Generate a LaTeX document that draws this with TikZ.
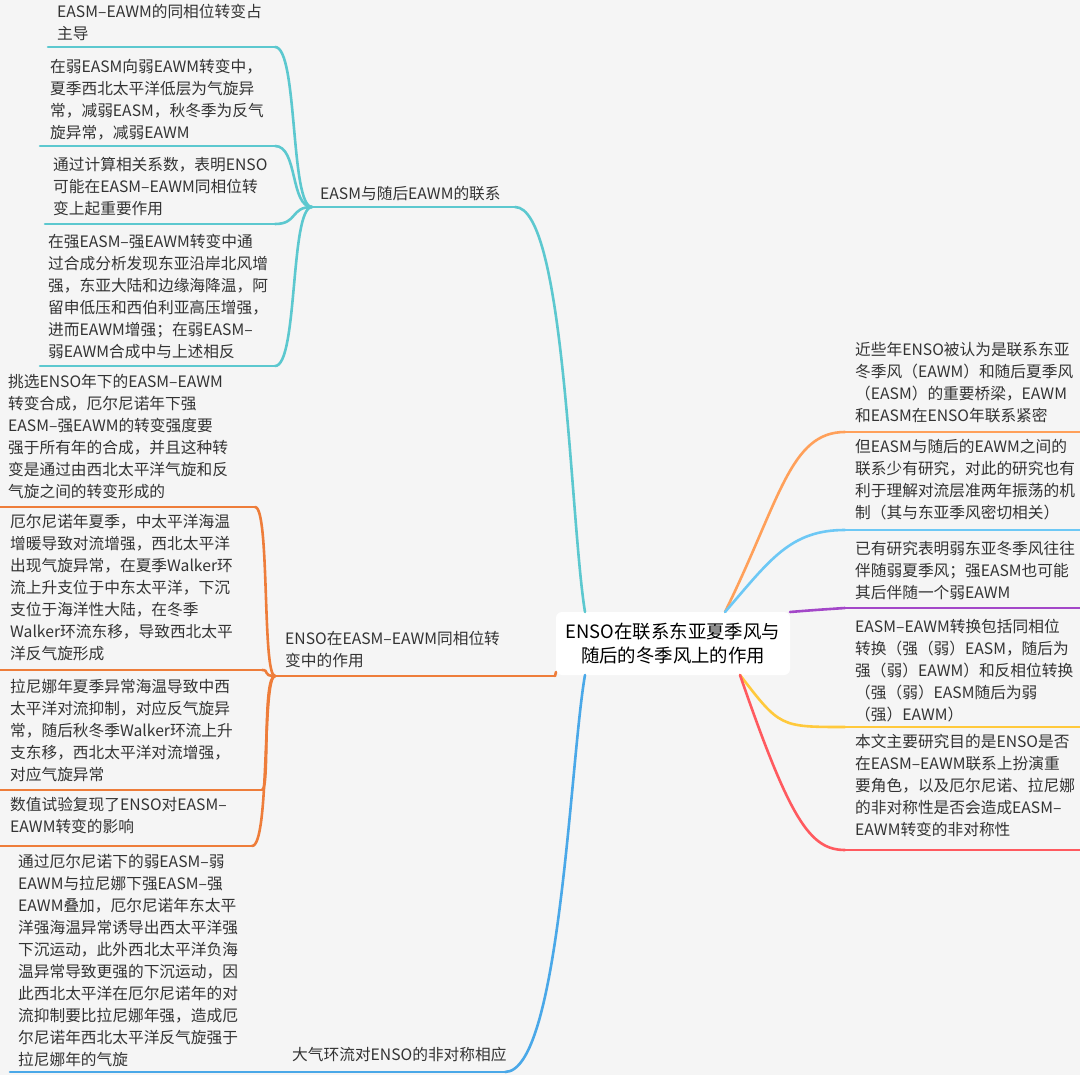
\documentclass[tikz,border=0pt]{standalone}
\usepackage{fontspec}
\setmainfont{Noto Sans CJK SC}
\definecolor{bg}{HTML}{F5F5F5}
\definecolor{teal}{HTML}{5CC8CF}
\definecolor{oranL}{HTML}{EE7D3A}
\definecolor{oranR}{HTML}{FFA05A}
\definecolor{lblue}{HTML}{6DC8F5}
\definecolor{purp}{HTML}{A347C8}
\definecolor{yell}{HTML}{FFC93C}
\definecolor{redd}{HTML}{FF5A5F}
\definecolor{blu}{HTML}{4AA8E8}
\definecolor{txt}{HTML}{333333}
\tikzset{
 leaf/.style={anchor=north west,inner sep=0pt,align=left,text=txt,font=\fontsize{15.7}{22}\selectfont},
 ln/.style={line width=2.6pt,line cap=round},
}
\begin{document}
\begin{tikzpicture}[x=1pt,y=-1pt]
\fill[bg] (0,0) rectangle (1080,1075);
\useasboundingbox (0,0) rectangle (1080,1075);
% center
\node[draw=none,fill=white,rounded corners=6pt,minimum width=234pt,minimum height=63pt,align=center,text=black,font=\fontsize{18.4}{24}\selectfont] (c) at (673,643.5) {ENSO在联系东亚夏季风与\\随后的冬季风上的作用};
\coordinate (cTL) at (585,612);
\coordinate (cL) at (556,672);
\coordinate (cBL) at (585,675);
\coordinate (cRT) at (725,612);
\coordinate (cRP) at (790,612);
\coordinate (cRB) at (740,675);
% ===== teal branch
\node[leaf] (tl) at (320,186) {EASM与随后EAWM的联系};
\coordinate (th) at (312,207); \coordinate (te) at (515,207);
\draw[ln,teal] (th) -- (te);
\draw[ln,teal] (te) .. controls (565,207) and (570,520) .. (cTL);
\node[leaf] (t1) at (57,4) {EASM–EAWM的同相位转变占\\主导};
\node[leaf] (t2) at (50,59) {在弱EASM向弱EAWM转变中，\\夏季西北太平洋低层为气旋异\\常，减弱EASM，秋冬季为反气\\旋异常，减弱EAWM};
\node[leaf] (t3) at (53,157) {通过计算相关系数，表明ENSO\\可能在EASM–EAWM同相位转\\变上起重要作用};
\node[leaf] (t4) at (48,234) {在强EASM–强EAWM转变中通\\过合成分析发现东亚沿岸北风增\\强，东亚大陆和边缘海降温，阿\\留申低压和西伯利亚高压增强，\\进而EAWM增强；在弱EASM–\\弱EAWM合成中与上述相反};
\foreach \n/\y/\xa in {1/47/48,2/146/40,3/224/45,4/366/40}{
 \coordinate (ta\n) at (\xa,\y); \coordinate (tb\n) at (275,\y);
 \draw[ln,teal] (ta\n) -- (tb\n);
 \draw[ln,teal] (tb\n) .. controls (298,\y) and (290,207) .. (th);
}
% ===== orange left branch
\node[leaf] (ol) at (285,631) {ENSO在EASM–EAWM同相位转\\变中的作用};
\coordinate (oh) at (275,676); \coordinate (oe) at (555,676);
\draw[ln,oranL] (oh) -- (oe);
\draw[ln,oranL] (oe) .. controls (556,674) .. (cL);
\node[leaf] (o1) at (8,374) {挑选ENSO年下的EASM–EAWM\\转变合成，厄尔尼诺年下强\\EASM–强EAWM的转变强度要\\强于所有年的合成，并且这种转\\变是通过由西北太平洋气旋和反\\气旋之间的转变形成的};
\node[leaf] (o2) at (10,514) {厄尔尼诺年夏季，中太平洋海温\\增暖导致对流增强，西北太平洋\\出现气旋异常，在夏季Walker环\\流上升支位于中东太平洋，下沉\\支位于海洋性大陆，在冬季\\Walker环流东移，导致西北太平\\洋反气旋形成};
\node[leaf] (o3) at (10,679) {拉尼娜年夏季异常海温导致中西\\太平洋对流抑制，对应反气旋异\\常，随后秋冬季Walker环流上升\\支东移，西北太平洋对流增强，\\对应气旋异常};
\node[leaf] (o4) at (10,797) {数值试验复现了ENSO对EASM–\\EAWM转变的影响};
\foreach \n/\y/\xb in {1/507/255,2/670/262,3/790/262,4/846/252}{
 \coordinate (oa\n) at (0,\y); \coordinate (ob\n) at (\xb,\y);
 \draw[ln,oranL] (oa\n) -- (ob\n);
 \draw[ln,oranL] (ob\n) .. controls (270,\y) and (262,676) .. (oh);
}
% ===== blue branch
\node[leaf] (bl) at (292,1047) {大气环流对ENSO的非对称相应};
\coordinate (bh) at (285,1072); \coordinate (be) at (505,1072);
\draw[ln,blu] (bh) -- (be);
\draw[ln,blu] (be) .. controls (560,1072) and (570,760) .. (cBL);
\node[leaf] (b1) at (18,854) {通过厄尔尼诺下的弱EASM–弱\\EAWM与拉尼娜下强EASM–强\\EAWM叠加，厄尔尼诺年东太平\\洋强海温异常诱导出西太平洋强\\下沉运动，此外西北太平洋负海\\温异常导致更强的下沉运动，因\\此西北太平洋在厄尔尼诺年的对\\流抑制要比拉尼娜年强，造成厄\\尔尼诺年西北太平洋反气旋强于\\拉尼娜年的气旋};
\coordinate (ba1) at (10,1072); \coordinate (bb1) at (280,1072);
\draw[ln,blu] (ba1) -- (bb1) -- (bh);
% ===== right leaves
\node[leaf] (r1) at (855,342) {近些年ENSO被认为是联系东亚\\冬季风（EAWM）和随后夏季风\\（EASM）的重要桥梁，EAWM\\和EASM在ENSO年联系紧密};
\node[leaf] (r2) at (855,439) {但EASM与随后的EAWM之间的\\联系少有研究，对此的研究也有\\利于理解对流层准两年振荡的机\\制（其与东亚季风密切相关）};
\node[leaf] (r3) at (855,541) {已有研究表明弱东亚冬季风往往\\伴随弱夏季风；强EASM也可能\\其后伴随一个弱EAWM};
\node[leaf] (r4) at (855,619) {EASM–EAWM转换包括同相位\\转换（强（弱）EASM，随后为\\强（弱）EAWM）和反相位转换\\（强（弱）EASM随后为弱\\（强）EAWM）};
\node[leaf] (r5) at (855,734) {本文主要研究目的是ENSO是否\\在EASM–EAWM联系上扮演重\\要角色，以及厄尔尼诺、拉尼娜\\的非对称性是否会造成EASM–\\EAWM转变的非对称性};
\foreach \n/\y/\col in {1/432/oranR,2/530/lblue,4/727/yell,5/850/redd}{
 \coordinate (ra\n) at (845,\y); \coordinate (rb\n) at (1080,\y);
 \draw[ln,\col] (ra\n) -- (rb\n);
}
\coordinate (ra3) at (845,608); \coordinate (rb3) at (1080,608);
\draw[ln,purp] (ra3) -- (rb3);
\draw[ln,oranR] (cRT) .. controls (780,500) and (790,432) .. (ra1);
\draw[ln,lblue] (cRT) .. controls (770,560) and (790,530) .. (ra2);
\draw[ln,purp] (cRP) .. controls (815,610) .. (ra3);
\draw[ln,yell] (cRB) .. controls (780,727) .. (ra4);
\draw[ln,redd] (cRB) .. controls (790,820) and (810,850) .. (ra5);
\end{tikzpicture}
\end{document}
